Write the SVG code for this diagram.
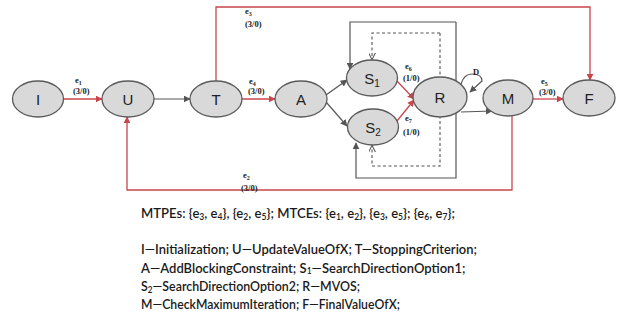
<svg xmlns="http://www.w3.org/2000/svg" width="624" height="325" viewBox="0 0 624 325">
<style>
.node ellipse{fill:#d9d9d9;stroke:#5a5a5a;stroke-width:1.3}
.nl{font-family:"Liberation Sans",Arial,sans-serif;font-size:15px;fill:#222;text-anchor:middle}
.red{stroke:#c8464e;stroke-width:1.3;fill:none}
.gray{stroke:#555;stroke-width:1.2;fill:none}
.dash{stroke:#555;stroke-width:1.1;fill:none;stroke-dasharray:3 2.5}
.el{font-family:"Liberation Serif","Times New Roman",serif;font-weight:bold;font-size:8.5px;fill:#222}
.lg{font-family:Lato,"Liberation Sans",Arial,sans-serif;font-size:13px;font-weight:600;fill:#1a1a1a}
.sb{font-size:8.5px}
</style>
<defs>
<marker id="ar" viewBox="0 0 10 10" refX="9" refY="5" markerWidth="7" markerHeight="7" markerUnits="userSpaceOnUse" orient="auto"><path d="M0,0 L10,5 L0,10 z" fill="#c8464e"/></marker>
<marker id="ag" viewBox="0 0 10 10" refX="9" refY="5" markerWidth="7" markerHeight="7" markerUnits="userSpaceOnUse" orient="auto"><path d="M0,0 L10,5 L0,10 z" fill="#555"/></marker>
<marker id="ao" viewBox="0 0 10 10" refX="9" refY="5" markerWidth="7" markerHeight="7" markerUnits="userSpaceOnUse" orient="auto"><path d="M0,0 L10,5 L0,10" fill="none" stroke="#555" stroke-width="1.5"/></marker>
</defs>
<g id="connectors">
<polyline class="gray" points="456,22 456,178 356,178 356,143" marker-end="url(#ag)"/>
<polyline class="gray" points="456,22 350,22 350,69" marker-end="url(#ag)"/>
<polyline class="dash" points="440,33 440,166 372,166 372,146" marker-end="url(#ao)"/>
<polyline class="dash" points="440,33 372,33 372,59" marker-end="url(#ao)"/>
<polyline class="red" points="216,81 216,7 590,7 590,80" marker-end="url(#ar)"/>
<polyline class="red" points="512,116 512,190 127,190 127,117" marker-end="url(#ar)"/>
<line class="red" x1="63" y1="99" x2="102" y2="99" marker-end="url(#ar)"/>
<line class="gray" x1="154" y1="99" x2="190" y2="99" marker-end="url(#ag)"/>
<line class="red" x1="242" y1="99" x2="275" y2="99" marker-end="url(#ar)"/>
<line class="gray" x1="326" y1="95" x2="347" y2="80" marker-end="url(#ag)"/>
<line class="gray" x1="326" y1="102" x2="347" y2="126" marker-end="url(#ag)"/>
<line class="red" x1="397" y1="81" x2="414" y2="99" marker-end="url(#ar)"/>
<line class="red" x1="397" y1="121" x2="414" y2="100" marker-end="url(#ar)"/>
<path class="gray" d="M461,84 Q464,74 472,74 Q482,74 482,81 L470,92" marker-end="url(#ag)"/>
<line class="gray" x1="461" y1="112" x2="492" y2="111" marker-end="url(#ag)"/>
<line class="red" x1="533" y1="99" x2="563" y2="99" marker-end="url(#ar)"/>
<text class="el" x="75" y="83">e<tspan font-size="6" dy="2">1</tspan></text>
<text class="el" x="73" y="94">(3/0)</text>
<text class="el" x="245" y="14">e<tspan font-size="6" dy="2">3</tspan></text>
<text class="el" x="245" y="27">(3/0)</text>
<text class="el" x="249" y="84">e<tspan font-size="6" dy="2">4</tspan></text>
<text class="el" x="248" y="94">(3/0)</text>
<text class="el" x="405" y="69">e<tspan font-size="6" dy="2">6</tspan></text>
<text class="el" x="403" y="81">(1/0)</text>
<text class="el" x="405" y="121">e<tspan font-size="6" dy="2">7</tspan></text>
<text class="el" x="403" y="135">(1/0)</text>
<text class="el" x="473" y="75" font-size="10">D</text>
<text class="el" x="541" y="84">e<tspan font-size="6" dy="2">5</tspan></text>
<text class="el" x="539" y="95">(3/0)</text>
<text class="el" x="243" y="178">e<tspan font-size="6" dy="2">2</tspan></text>
<text class="el" x="241" y="191">(3/0)</text>
</g>
<g id="I" class="node"><ellipse cx="38" cy="99" rx="25.5" ry="18"/><text class="nl" x="38" y="104.5">I</text></g>
<g id="U" class="node"><ellipse cx="128" cy="99" rx="26" ry="18"/><text class="nl" x="128" y="104.5">U</text></g>
<g id="T" class="node"><ellipse cx="216" cy="99" rx="26" ry="18"/><text class="nl" x="216" y="104.5">T</text></g>
<g id="A" class="node"><ellipse cx="301" cy="99" rx="26" ry="18"/><text class="nl" x="301" y="104.5">A</text></g>
<g id="S1" class="node"><ellipse cx="372" cy="78" rx="25.5" ry="18"/><text class="nl" x="372" y="83.5">S<tspan font-size="10" dy="3">1</tspan></text></g>
<g id="S2" class="node"><ellipse cx="373" cy="127" rx="25.5" ry="18"/><text class="nl" x="373" y="132.5">S<tspan font-size="10" dy="3">2</tspan></text></g>
<g id="R" class="node"><ellipse cx="440" cy="97" rx="27" ry="20"/><text class="nl" x="440" y="102.5">R</text></g>
<g id="M" class="node"><ellipse cx="508" cy="98" rx="25" ry="18"/><text class="nl" x="508" y="103.5">M</text></g>
<g id="F" class="node"><ellipse cx="589" cy="98" rx="26" ry="18"/><text class="nl" x="589" y="103.5">F</text></g>
<g id="legend">
<text class="lg" x="141" y="218" textLength="314" lengthAdjust="spacingAndGlyphs">MTPEs: {e<tspan class="sb" dy="1.5">3</tspan><tspan dy="-1.5">, e</tspan><tspan class="sb" dy="1.5">4</tspan><tspan dy="-1.5">}, {e</tspan><tspan class="sb" dy="1.5">2</tspan><tspan dy="-1.5">, e</tspan><tspan class="sb" dy="1.5">5</tspan><tspan dy="-1.5">}; MTCEs: {e</tspan><tspan class="sb" dy="1.5">1</tspan><tspan dy="-1.5">, e</tspan><tspan class="sb" dy="1.5">2</tspan><tspan dy="-1.5">}, {e</tspan><tspan class="sb" dy="1.5">3</tspan><tspan dy="-1.5">, e</tspan><tspan class="sb" dy="1.5">5</tspan><tspan dy="-1.5">}; {e</tspan><tspan class="sb" dy="1.5">6</tspan><tspan dy="-1.5">, e</tspan><tspan class="sb" dy="1.5">7</tspan><tspan dy="-1.5">};</tspan></text>
<text class="lg" x="141" y="254" textLength="336" lengthAdjust="spacingAndGlyphs">I—Initialization; U—UpdateValueOfX; T—StoppingCriterion;</text>
<text class="lg" x="141" y="272.5">A—AddBlockingConstraint; S<tspan class="sb" dy="1.5">1</tspan><tspan dy="-1.5">—SearchDirectionOption1;</tspan></text>
<text class="lg" x="141" y="291" textLength="219" lengthAdjust="spacingAndGlyphs">S<tspan class="sb" dy="1.5">2</tspan><tspan dy="-1.5">—SearchDirectionOption2; R—MVOS;</tspan></text>
<text class="lg" x="141" y="309" textLength="259" lengthAdjust="spacingAndGlyphs">M—CheckMaximumIteration; F—FinalValueOfX;</text>
</g>
</svg>
